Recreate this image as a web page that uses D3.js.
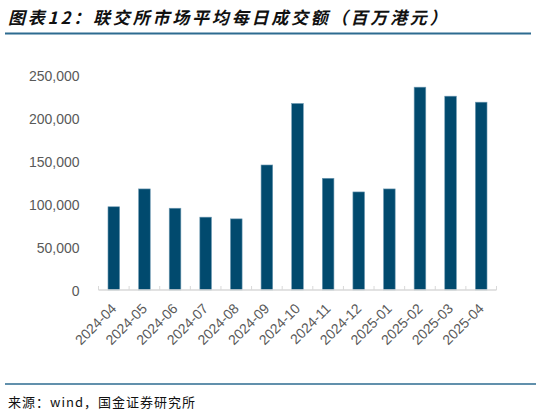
<!DOCTYPE html>
<html>
<head>
<meta charset="utf-8">
<script src="https://cdn.jsdelivr.net/npm/d3@7"></script>
<style>
  html, body { margin: 0; padding: 0; background: #fff; }
  svg { display: block; }
</style>
</head>
<body>
<div id="chart"></div>
<script>
var months = ['2024-04', '2024-05', '2024-06', '2024-07', '2024-08', '2024-09', '2024-10',
              '2024-11', '2024-12', '2025-01', '2025-02', '2025-03', '2025-04'];
// average daily turnover, HKD million
var turnover = [97000, 117800, 95300, 84900, 82900, 145700, 217400,
                130200, 114300, 117800, 236400, 225900, 218900];
var yTicks = [0, 50000, 100000, 150000, 200000, 250000];

var width = 541, height = 415;
var plot = { left: 98.5, right: 496.5, top: 75.5, bottom: 290 };

var svg = d3.select('#chart').append('svg')
  .attr('width', width)
  .attr('height', height);

// title + rules
svg.append('text')
  .attr('x', 8).attr('y', 24)
  .attr('font-family', '"Noto Sans CJK SC", sans-serif')
  .attr('font-size', 17)
  .attr('font-weight', 'bold')
  .attr('font-style', 'italic')
  .attr('letter-spacing', 2.8)
  .attr('fill', '#111')
  .text('图表12：联交所市场平均每日成交额（百万港元）');

svg.append('line')
  .attr('x1', 5).attr('x2', 531).attr('y1', 33.5).attr('y2', 33.5)
  .attr('stroke', '#2d6b90').attr('stroke-width', 2);

svg.append('line')
  .attr('x1', 5).attr('x2', 536).attr('y1', 384).attr('y2', 384)
  .attr('stroke', '#2d6b90').attr('stroke-width', 1.5);

svg.append('text')
  .attr('x', 8).attr('y', 407)
  .attr('font-family', '"Noto Sans CJK SC", sans-serif')
  .attr('font-size', 13)
  .attr('letter-spacing', 1)
  .attr('fill', '#111')
  .text('来源：wind，国金证券研究所');

var x = d3.scaleBand()
  .domain(months)
  .range([plot.left, plot.right])
  .paddingInner(0.62)
  .paddingOuter(0.31);

var y = d3.scaleLinear()
  .domain([0, 250000])
  .range([plot.bottom, plot.top]);

// y axis labels (no line)
var yAxis = svg.append('g')
  .attr('transform', 'translate(' + (plot.left - 16) + ',0)')
  .call(d3.axisLeft(y).tickValues(yTicks).tickSize(0).tickFormat(d3.format(',')));
yAxis.select('.domain').remove();
yAxis.selectAll('text')
  .attr('font-family', '"Liberation Sans", Arial, sans-serif')
  .attr('font-size', 14)
  .attr('fill', '#595959')
  .attr('dy', '0.36em');

// bars
svg.selectAll('rect.bar')
  .data(turnover)
  .enter()
  .append('rect')
  .attr('class', 'bar')
  .attr('x', function (d, i) { return x(months[i]); })
  .attr('width', x.bandwidth())
  .attr('y', function (d) { return y(d); })
  .attr('height', function (d) { return y(0) - y(d); })
  .attr('fill', '#014a6e')
  .attr('stroke', '#6f9ab3')
  .attr('stroke-width', 0.6);

// x axis: baseline, upward boundary ticks, rotated labels
var step = x.step();
var bounds = d3.range(months.length + 1).map(function (i) { return plot.left + i * step; });

svg.append('line')
  .attr('x1', plot.left).attr('x2', plot.right)
  .attr('y1', plot.bottom).attr('y2', plot.bottom)
  .attr('stroke', '#d9d9d9').attr('stroke-width', 1.5);

svg.selectAll('line.btick')
  .data(bounds)
  .enter()
  .append('line')
  .attr('class', 'btick')
  .attr('x1', function (d) { return d; }).attr('x2', function (d) { return d; })
  .attr('y1', plot.bottom).attr('y2', plot.bottom - 4)
  .attr('stroke', '#d9d9d9').attr('stroke-width', 1);

svg.selectAll('text.xlab')
  .data(months)
  .enter()
  .append('text')
  .attr('class', 'xlab')
  .attr('transform', function (d) {
    return 'translate(' + (x(d) + x.bandwidth() / 2) + ',' + (plot.bottom + 16) + ') rotate(-45)';
  })
  .attr('text-anchor', 'end')
  .attr('dy', '0.35em')
  .attr('font-family', '"Liberation Sans", Arial, sans-serif')
  .attr('font-size', 14)
  .attr('fill', '#595959')
  .text(function (d) { return d; });
</script>
</body>
</html>
